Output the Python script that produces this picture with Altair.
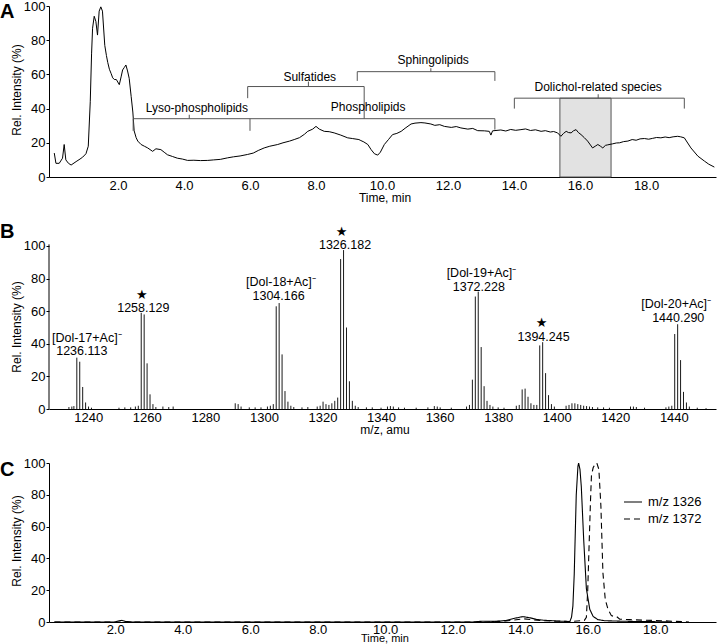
import altair as alt
import pandas as pd

FONT = "Liberation Sans"
W = 667

# ---------------- Panel A : total ion chromatogram ----------------
A_TIME = [0.07, 0.12, 0.22, 0.32, 0.37, 0.42, 0.5, 0.58, 0.73, 0.85, 0.93, 1.03, 1.1, 1.16, 1.2,
          1.23, 1.28, 1.33, 1.38, 1.43, 1.48, 1.53, 1.6, 1.65, 1.69, 1.74, 1.79, 1.84, 1.89, 1.95,
          2.04, 2.1, 2.14, 2.19, 2.24, 2.29, 2.34, 2.4, 2.45, 2.49, 2.55, 2.6, 2.7, 2.8, 2.9, 3.05,
          3.15, 3.3, 3.4, 3.5, 3.65, 3.8, 3.95, 4.11, 4.3, 4.5, 4.72, 4.9, 5.1, 5.32, 5.5, 5.7,
          5.93, 6.1, 6.25, 6.43, 6.6, 6.84, 7.0, 7.2, 7.34, 7.5, 7.65, 7.75, 7.9, 8.0, 8.1, 8.25,
          8.4, 8.55, 8.75, 8.96, 9.1, 9.3, 9.36, 9.45, 9.57, 9.67, 9.77, 9.87, 9.95, 10.07, 10.2,
          10.32, 10.45, 10.58, 10.7, 10.88, 11.0, 11.18, 11.3, 11.48, 11.6, 11.75, 11.89, 12.1,
          12.25, 12.39, 12.6, 12.75, 12.9, 13.1, 13.25, 13.3, 13.35, 13.6, 13.75, 13.9, 14.05,
          14.21, 14.35, 14.5, 14.65, 14.82, 14.95, 15.1, 15.2, 15.32, 15.42, 15.5, 15.58, 15.65,
          15.73, 15.8, 15.88, 15.95, 16.03, 16.13, 16.23, 16.38, 16.46, 16.54, 16.62, 16.69,
          16.77, 16.84, 16.99, 17.1, 17.2, 17.32, 17.45, 17.58, 17.7, 17.82, 17.95, 18.08, 18.2,
          18.32, 18.45, 18.58, 18.7, 18.82, 18.96, 19.05, 19.16, 19.36, 19.57, 19.77, 19.9, 20.07]
A_INT = [14, 8, 8, 11, 19, 10, 8, 7, 9, 10.5, 11.6, 13.6, 18, 44, 72,
         87, 94, 91, 83, 97, 99.5, 97, 77, 71, 67, 63, 60.6, 58, 57, 57,
         54, 59, 62.6, 64, 65.5, 62, 57.7, 47, 38, 27, 23, 21, 19, 18, 17, 15,
         16.5, 16, 14.5, 13, 12, 11, 10.5, 9.7, 9.8, 9.6, 9.7, 10, 10.3, 11.2, 11.8, 12.3,
         13.2, 14, 15.5, 17, 18, 19, 20, 21, 21.9, 23, 25, 26.7, 28, 29.6, 28, 26.7,
         26.5, 25.8, 24.5, 22.9, 22.5, 21.9, 21.3, 20.5, 19, 16, 13.6, 12.8, 14.5, 19, 22,
         24.8, 25.5, 26.7, 28.5, 31, 31.5, 31.8, 31.6, 31, 30.2, 30.6, 29.6, 29,
         29.5, 28.7, 28, 28.4, 27.1, 27, 26.7, 24.5, 27, 27.5, 26.9, 27.8, 27.3,
         27.7, 28.1, 27.2, 27.6, 26.7, 27.1, 26.3, 26.6, 25.8, 23.8, 25.5, 26.7, 26,
         25.8, 27, 27.7, 26, 24.8, 23, 21, 17, 18, 19, 18, 17,
         18.5, 18.8, 19.4, 19.9, 20, 20.7, 21, 21.9, 21.5, 22.3, 22.5, 22.1, 22.6,
         23.1, 22.9, 23.4, 23, 23.5, 23.8, 23.5, 22.9, 17, 12.2, 9.3, 7.5, 5.8]

A_SHADE_START = [15.39]
A_SHADE_END = [16.94]
A_SHADE_TOP = [46.1]

# bracket segments (x1, y1) -> (x2, y2)
BR_X1 = [2.46, 2.46, 4.16, 6.0, 13.42, 5.93, 5.93, 9.46, 7.77, 9.25, 9.25, 13.42, 11.48, 14.01, 14.01, 19.16, 16.55]
BR_X2 = [13.42, 2.46, 4.16, 6.0, 13.42, 9.46, 5.93, 9.46, 7.77, 13.42, 9.25, 13.42, 11.48, 19.16, 14.01, 19.16, 16.55]
BR_Y1 = [34.1, 34.1, 34.1, 34.1, 34.1, 52.9, 52.9, 52.9, 52.9, 61.6, 61.6, 61.6, 61.6, 46.1, 46.1, 46.1, 46.1]
BR_Y2 = [34.1, 27.0, 36.4, 27.0, 27.7, 52.9, 46.1, 34.1, 55.8, 61.6, 56.2, 56.2, 63.6, 46.1, 40.0, 40.0, 48.4]

A_LABELS = ["Lyso-phospholipids", "Sulfatides", "Phospholipids", "Sphingolipids", "Dolichol-related species"]
A_LABEL_X = [4.39, 7.81, 9.58, 11.55, 16.55]
A_LABEL_Y = [40.1, 58.7, 40.9, 68.4, 52.5]

TIME_TICKS = [2, 4, 6, 8, 10, 12, 14, 16, 18]
Y_TICKS = [0, 20, 40, 60, 80, 100]

# ---------------- Panel B : mass spectrum ----------------
B_MZ = [1233.4, 1234.4, 1235.1, 1236.1, 1237.1, 1238.1, 1239.1, 1240.1, 1241.1,
        1250.5, 1252.5, 1254.5, 1256.1, 1257.1, 1258.1, 1259.1, 1260.1, 1261.1, 1262.1, 1263.1, 1265.5, 1267.5, 1269.0,
        1290.2, 1291.2, 1292.2, 1295.0, 1297.0, 1299.0, 1301.2, 1302.2, 1303.2, 1304.2, 1305.2, 1306.2, 1307.2, 1308.2, 1309.2, 1310.2, 1313.0, 1315.0,
        1318.2, 1319.2, 1320.2, 1321.2, 1322.2, 1323.2, 1324.2, 1325.2, 1326.2, 1327.2, 1328.2, 1329.2, 1330.2, 1331.2, 1332.2, 1335.0, 1337.0, 1340.0, 1342.2, 1343.2, 1344.2, 1346.0, 1348.0,
        1352.0, 1356.0, 1358.2, 1359.2, 1360.2, 1364.0, 1369.2, 1370.2, 1371.2, 1372.2, 1373.2, 1374.2, 1375.2, 1376.2, 1377.2, 1378.2, 1380.0, 1382.0,
        1386.2, 1387.2, 1388.2, 1389.2, 1390.2, 1391.2, 1392.2, 1393.2, 1394.2, 1395.2, 1396.2, 1397.2, 1398.2, 1399.2,
        1403.2, 1404.2, 1405.2, 1406.2, 1407.2, 1408.2, 1409.2, 1410.2, 1411.2, 1412.2, 1414.0, 1416.0, 1418.0, 1425.2, 1426.2, 1427.2, 1430.0,
        1437.3, 1438.3, 1439.3, 1440.3, 1441.3, 1442.3, 1443.3, 1444.3, 1445.3, 1448.0, 1451.0]
B_INT = [1.2, 1.5, 1.8, 31.5, 29, 13.5, 4, 1.5, 0.8,
         0.8, 1, 1, 1.5, 2, 59, 58, 28, 9, 3, 1.2, 1.5, 1.2, 1.5,
         3.5, 3, 1.5, 1, 1, 1, 1.5, 2, 3, 63, 65, 33.5, 11, 4.5, 2, 1.2, 1, 1.2,
         1.5, 2, 4.5, 3, 2.5, 3.5, 5, 7, 92, 97.5, 50, 17, 5, 2, 1.2, 1, 1, 0.8, 1.5, 1.8, 1.5, 1, 0.8,
         0.8, 1, 1.8, 1.5, 1, 0.8, 1.5, 2.5, 18, 69, 72, 38, 14, 5, 2.5, 1.5, 1, 0.8,
         2, 2.5, 12, 12.5, 7.5, 3.5, 2.5, 2.5, 39, 41, 22, 8.5, 3, 1.5,
         2, 2.5, 3.5, 3.5, 3, 2.5, 2, 1.8, 1.5, 1.2, 1, 1, 0.8, 1.5, 1.5, 1.2, 0.8,
         1, 1.5, 2, 46, 52, 30, 10.5, 4, 1.5, 0.8, 0.5]

B_LABELS = ["[Dol-17+Ac]\u207b", "1236.113", "1258.129", "[Dol-18+Ac]\u207b", "1304.166", "1326.182",
            "[Dol-19+Ac]\u207b", "1372.228", "1394.245", "[Dol-20+Ac]\u207b", "1440.290"]
B_LABEL_MZ = [1239.5, 1237.8, 1258.8, 1305.8, 1305.0, 1327.7, 1374.3, 1373.4, 1395.5, 1440.8, 1441.5]
B_LABEL_Y = [43.3, 35.4, 62.0, 78.2, 69.4, 100.4, 83.5, 74.9, 44.2, 64.2, 55.8]
B_STAR_MZ = [1258.3, 1326.5, 1394.8]
B_STAR_Y = [70.2, 108.6, 52.8]
MZ_TICKS = [1240, 1260, 1280, 1300, 1320, 1340, 1360, 1380, 1400, 1420, 1440]

# ---------------- Panel C : extracted ion chromatograms ----------------
C_T_1326 = [0.2, 2.0, 2.12, 2.2, 2.3, 2.5, 12.6, 12.8, 13.0, 13.2, 13.4, 13.6, 13.8, 14.08, 14.3, 14.48, 14.7,
            14.96, 15.2, 15.47, 15.52, 15.56, 15.6, 15.66, 15.71, 15.73, 15.77, 15.81, 15.88, 15.96, 16.06,
            16.16, 16.3, 16.5, 17.0, 17.5, 18.0, 18.5]
C_V_1326 = [0, 0, 0.8, 1.0, 0.4, 0, 0, 0.4, 0.5, 0.4, 0.6, 1.0, 2.2, 3.4, 2.6, 1.6, 1.1,
            0.8, 0.5, 0.3, 3, 10, 30, 80, 98, 100, 96, 85, 52, 21, 8,
            3.5, 1.5, 0.8, 0.5, 0.3, 0.2, 0]
C_T_1372 = [0.2, 13.0, 13.5, 13.8, 14.1, 14.4, 14.7, 15.0, 15.5, 15.9, 15.96, 16.0, 16.03, 16.08, 16.11,
            16.16, 16.21, 16.27, 16.33, 16.39, 16.45, 16.52, 16.6, 16.7, 16.8, 16.85, 16.95, 17.25,
            17.6, 18.0, 18.5, 19.0]
C_V_1372 = [0, 0, 0.5, 1.2, 2.0, 1.3, 0.8, 0.5, 0.3, 1, 3, 20, 41, 75, 92,
            97, 99, 100, 96, 73, 31, 14, 8, 4, 3.4, 3.5, 1.8, 1.5,
            1.2, 1.0, 0.5, 0]
C_SERIES = ["m/z 1326", "m/z 1372"]


# ---------------- helpers ----------------
def x_axis(values, fmt, pad=2):
    return alt.Axis(values=values, format=fmt, title=None, grid=False, ticks=False,
                    labelPadding=pad, labelFontSize=13, labelFont=FONT, labelColor="black",
                    domainColor="black", domainWidth=1, labelFlush=False)


def y_axis(domain=True):
    return alt.Axis(values=Y_TICKS, format="d", title=None, grid=False, tickSize=3,
                    tickColor="black", labelPadding=1, labelFontSize=13, labelFont=FONT,
                    labelColor="black", domain=domain, domainColor="black", domainWidth=1)


def note(text, x, y, size=12, angle=0, weight="normal", align="center", baseline="middle"):
    return alt.Chart(pd.DataFrame({"t": [text]})).mark_text(
        text=text, font=FONT, fontSize=size, angle=angle, fontWeight=weight,
        align=align, baseline=baseline, color="black"
    ).encode(x=alt.value(x), y=alt.value(y))


# ---------------- Panel A ----------------
a_xs = alt.Scale(domain=[-0.09, 20.12], nice=False, zero=False)
a_ys = alt.Scale(domain=[0, 100], nice=False)
AX = lambda f: alt.X(f, type="quantitative", scale=a_xs, axis=x_axis(TIME_TICKS, ".1f"))
AY = lambda f: alt.Y(f, type="quantitative", scale=a_ys, axis=y_axis())

shade = alt.Chart(pd.DataFrame({"x": A_SHADE_START, "x2": A_SHADE_END, "y": [0], "y2": A_SHADE_TOP})).mark_rect(
    fill="#e2e2e2", stroke="#555555", strokeWidth=1
).encode(x=AX("x"), x2="x2", y=AY("y"), y2="y2")

curve_a = alt.Chart(pd.DataFrame({"t": A_TIME, "v": A_INT})).mark_line(
    color="black", strokeWidth=1
).encode(x=AX("t"), y=AY("v"))

brackets = alt.Chart(pd.DataFrame({"x": BR_X1, "x2": BR_X2, "y": BR_Y1, "y2": BR_Y2})).mark_rule(
    color="#555555", strokeWidth=1
).encode(x=AX("x"), x2="x2", y=AY("y"), y2="y2")

a_labels = alt.Chart(pd.DataFrame({"x": A_LABEL_X, "y": A_LABEL_Y, "txt": A_LABELS})).mark_text(
    font=FONT, fontSize=12, color="black", baseline="middle"
).encode(x=AX("x"), y=AY("y"), text="txt:N")

panel_a = alt.layer(
    shade, curve_a, brackets, a_labels,
    note("A", -49, 12, size=20, weight="bold", align="left", baseline="alphabetic"),
    note("Rel. Intensity (%)", -32, 84, size=12, angle=270),
    note("Time, min", 336, 192, size=12),
).properties(width=W, height=171)

# ---------------- Panel B ----------------
b_xs = alt.Scale(domain=[1226.6, 1454.4], nice=False, zero=False)
b_ys = alt.Scale(domain=[0, 109.2], nice=False)
BX = lambda f: alt.X(f, type="quantitative", scale=b_xs, axis=x_axis(MZ_TICKS, "d"))
BY = lambda f: alt.Y(f, type="quantitative", scale=b_ys, axis=y_axis(domain=False))

spec_df = pd.DataFrame({"mz": B_MZ, "v": B_INT})
spec_df["zero"] = 0
spectrum = alt.Chart(spec_df).mark_rule(color="#1a1a1a", strokeWidth=1).encode(
    x=BX("mz"), y=BY("v"), y2="zero")

b_axisline = alt.Chart(pd.DataFrame({"y": [0], "y2": [101]})).mark_rule(
    color="black", strokeWidth=1).encode(x=alt.value(0), y=BY("y"), y2="y2")

b_labels = alt.Chart(pd.DataFrame({"x": B_LABEL_MZ, "y": B_LABEL_Y, "txt": B_LABELS})).mark_text(
    font=FONT, fontSize=12.5, color="black", baseline="middle"
).encode(x=BX("x"), y=BY("y"), text="txt:N")

b_stars = alt.Chart(pd.DataFrame({"x": B_STAR_MZ, "y": B_STAR_Y})).mark_text(
    text="\u2605", font="DejaVu Sans", fontSize=13, color="black", baseline="middle"
).encode(x=BX("x"), y=BY("y"))

panel_b = alt.layer(
    spectrum, b_axisline, b_labels, b_stars,
    note("B", -49, 7, size=20, weight="bold", align="left", baseline="alphabetic"),
    note("Rel. Intensity (%)", -32, 96, size=12, angle=270),
    note("m/z, amu", 336, 199, size=12),
).properties(width=W, height=178)

# ---------------- Panel C ----------------
c_xs = alt.Scale(domain=[0.04, 19.8], nice=False, zero=False)
c_ys = alt.Scale(domain=[0, 100], nice=False)
CX = lambda f: alt.X(f, type="quantitative", scale=c_xs, axis=x_axis(TIME_TICKS, ".1f", pad=1))
CY = lambda f: alt.Y(f, type="quantitative", scale=c_ys, axis=y_axis())

c_df = pd.concat([
    pd.DataFrame({"t": C_T_1326, "v": C_V_1326, "series": C_SERIES[0]}),
    pd.DataFrame({"t": C_T_1372, "v": C_V_1372, "series": C_SERIES[1]}),
])
curves_c = alt.Chart(c_df).mark_line(color="black", strokeWidth=1.1).encode(
    x=CX("t"), y=CY("v"),
    strokeDash=alt.StrokeDash(
        "series:N",
        scale=alt.Scale(domain=C_SERIES, range=[[1, 0], [6, 4]]),
        legend=alt.Legend(orient="none", legendX=574, legendY=29, title=None,
                          symbolType="stroke", symbolSize=324, symbolStrokeWidth=1.2,
                          symbolStrokeColor="black", labelFontSize=13, labelFont=FONT,
                          labelColor="black", labelOffset=5, rowPadding=0, padding=0),
    ),
)

panel_c = alt.layer(
    curves_c,
    note("C", -49, 13, size=20, weight="bold", align="left", baseline="alphabetic"),
    note("Rel. Intensity (%)", -32, 78, size=12, angle=270),
    note("Time, min", 336, 176, size=11),
).properties(width=W, height=159)

chart = alt.vconcat(panel_a, panel_b, panel_c, spacing=54, bounds="flush").resolve_legend(
    strokeDash="independent"
).properties(
    padding={"left": 0, "top": 0, "right": 2, "bottom": 0},
    background="white",
).configure_view(stroke=None)

chart.save("out.html", embed_options={"renderer": "svg", "actions": False})
